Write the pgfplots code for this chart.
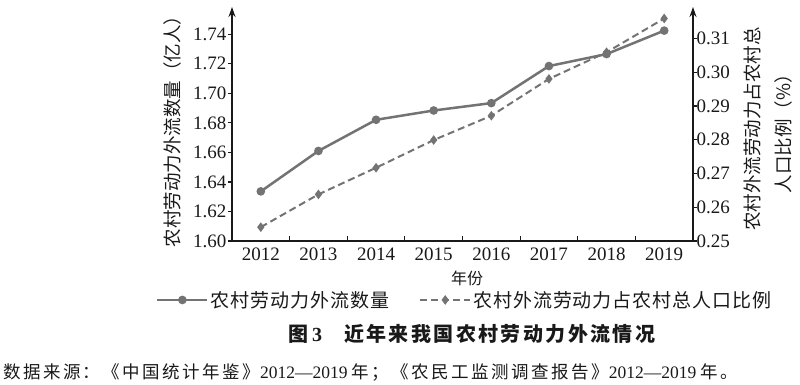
\documentclass[border=0pt]{standalone}
\usepackage{pgfplots}
\pgfplotsset{compat=1.18}
\usetikzlibrary{arrows.meta}
\usepackage{fontspec}
\setmainfont{Liberation Serif}
\newfontfamily\cjk{Noto Sans CJK SC}
\newfontfamily\cjkleg[LetterSpace=5]{Noto Sans CJK SC}
\newfontfamily\cjkcap[LetterSpace=12]{Noto Sans CJK SC}
\newfontfamily\cjksrc[LetterSpace=14]{Noto Sans CJK SC}
\definecolor{lg}{RGB}{115,115,115}
\definecolor{tx}{RGB}{25,25,25}
\pgfplotsset{
  solidser/.style={lg, line width=2.5pt, mark=*, mark size=3pt, mark options={solid,fill=lg}},
  dashser/.style={lg, line width=2pt, dash pattern=on 7pt off 4pt, mark=diamond*, mark size=3.2pt, mark options={solid,fill=lg}},
}
\begin{document}
\begin{tikzpicture}[x=1pt,y=1pt]
\useasboundingbox (0,0) rectangle (800,385);
\begin{axis}[
  at={(232pt,144pt)}, anchor=south west,
  scale only axis, width=461pt, height=234pt,
  xmin=2011.5, xmax=2019.5, ymin=1.60, ymax=1.7585,
  axis x line*=bottom, axis y line*=left,
  axis line style={tx, line width=1.2pt},
  x axis line style={-},
  y axis line style={-{Stealth[length=10pt,width=7pt]}},
  xtick={2012,...,2019},
  xticklabels={2012,2013,2014,2015,2016,2017,2018,2019},
  major x tick style={draw=none},
  minor xtick={2012.5,2013.5,2014.5,2015.5,2016.5,2017.5,2018.5},
  minor tick length=5pt,
  major tick length=4pt,
  tick align=inside,
  minor x tick style={tx, line width=1.2pt},
  y tick style={tx, line width=1.2pt, xshift=-4pt},
  ytick={1.60,1.62,1.64,1.66,1.68,1.70,1.72,1.74},
  yticklabels={1.60,1.62,1.64,1.66,1.68,1.70,1.72,1.74},
  tick label style={font=\fontsize{19}{22}\selectfont, text=tx},
  xticklabel style={yshift=-3pt},
  yticklabel style={xshift=-2pt},
  clip=false,
]
\addplot[solidser] coordinates {
(2012,1.6336) (2013,1.6610) (2014,1.6821) (2015,1.6884)
(2016,1.6934) (2017,1.7185) (2018,1.7266) (2019,1.7425)};
\end{axis}
\begin{axis}[
  at={(232pt,144pt)}, anchor=south west,
  scale only axis, width=461pt, height=234pt,
  xmin=2011.5, xmax=2019.5, ymin=0.25, ymax=0.3193,
  axis x line=none, axis y line*=right,
  axis line style={tx, line width=1.2pt},
  y axis line style={-{Stealth[length=10pt,width=7pt]}},
  major tick length=4pt,
  tick align=inside,
  y tick style={tx, line width=1.2pt, xshift=4pt},
  ytick={0.25,0.26,0.27,0.28,0.29,0.30,0.31},
  yticklabels={0.25,0.26,0.27,0.28,0.29,0.30,0.31},
  tick label style={font=\fontsize{19}{22}\selectfont, text=tx},
  clip=false,
  legend style={at={(0.505,-0.252)}, anchor=center, draw=none, fill=none,
    font=\cjkleg\fontsize{19}{22}\selectfont, text=tx,
    nodes={inner sep=2pt},
    /tikz/every even column/.append style={column sep=28pt}},
  legend columns=2,
  legend image code/.code={\draw[mark repeat=2,mark phase=2,#1] plot coordinates {(0pt,0pt) (25pt,0pt) (50pt,0pt)};},
]
\addlegendimage{solidser}
\addlegendentry{农村劳动力外流数量}
\addplot[dashser] coordinates {
(2012,0.2541) (2013,0.2638) (2014,0.2717) (2015,0.2799)
(2016,0.2871) (2017,0.2980) (2018,0.3059) (2019,0.3159)};
\addlegendentry{农村外流劳动力占农村总人口比例}
\end{axis}
\node[rotate=90, text=tx, font=\cjk\fontsize{18.5}{20}\selectfont] at (172,258) {农村劳动力外流数量（亿人）};
\node[rotate=90, text=tx, align=center, font=\cjk\fontsize{18.5}{31}\selectfont] at (768,256) {农村外流劳动力占农村总\\人口比例（\%）};
\node[text=tx, font=\cjk\fontsize{16}{18}\selectfont] at (467,107) {年份};
\node[anchor=west, text=tx, inner sep=0pt, font=\cjkcap\bfseries\fontsize{20}{22}\selectfont] at (288,51) {图\hspace{4pt}{\rmfamily\bfseries 3}\hspace{22pt}近年来我国农村劳动力外流情况};
\node[anchor=west, text=tx, inner sep=0pt, font=\fontsize{17.5}{20}\selectfont] at (3,12) {\cjksrc 数据来源：《中国统计年鉴》\rmfamily 2012—2019 \cjksrc 年；《农民工监测调查报告》\rmfamily 2012—2019 \cjksrc 年。};
\end{tikzpicture}
\end{document}
